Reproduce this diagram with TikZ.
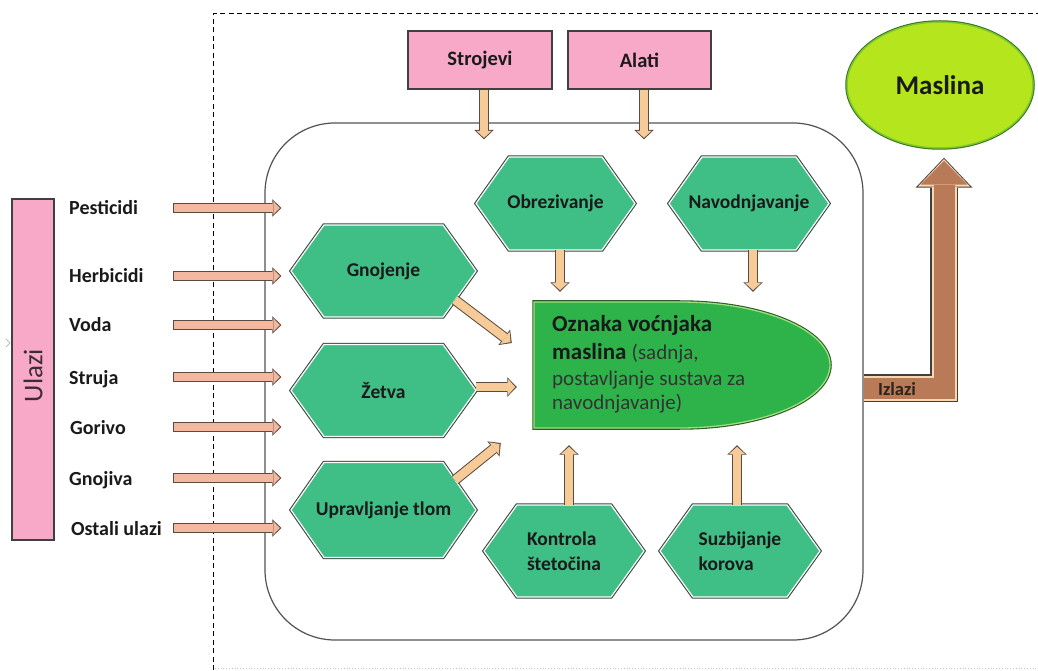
\documentclass[tikz,border=0pt]{standalone}
\usepackage{fontspec}
\setmainfont{Carlito}
\usetikzlibrary{arrows.meta,calc,shapes.geometric}
\definecolor{pinkc}{HTML}{F8A9C7}
\definecolor{salmonc}{HTML}{F4B8A0}
\definecolor{tanc}{HTML}{F7CB98}
\definecolor{hexg}{HTML}{3FBE86}
\definecolor{hexedge}{HTML}{3A4A40}
\definecolor{ovalg}{HTML}{2DB34A}
\definecolor{ovallight}{HTML}{9DE07A}
\definecolor{ovaldark}{HTML}{2E5A2A}
\definecolor{limec}{HTML}{B5E61D}
\definecolor{limeedge}{HTML}{7CCB2A}
\definecolor{limedark}{HTML}{3B6E1E}
\definecolor{brownc}{HTML}{B97A57}
\definecolor{creamc}{HTML}{FAD6AE}
\definecolor{edgec}{HTML}{404040}
\definecolor{arredge}{HTML}{5A4A40}
\definecolor{textc}{HTML}{1A1A1A}
\definecolor{ulazitext}{HTML}{3C2C38}
\newcommand{\hexa}[6]{%
  \path[hexfill] (#2-#4/2,#3) -- (#2-#4/2+33,#3+#5/2) -- (#2+#4/2-33,#3+#5/2) -- (#2+#4/2,#3) -- (#2+#4/2-33,#3-#5/2) -- (#2-#4/2+33,#3-#5/2) -- cycle;
  \node[hextext, minimum width=#4, minimum height=#5] (#1) at (#2,#3) {#6};
}
\tikzset{
  inlabel/.style={anchor=west, inner sep=0pt, font=\fontsize{20}{24}\selectfont\bfseries, text=textc, text height=14pt, text depth=0pt},
  pinkrect/.style={draw=edgec, line width=1.3pt, fill=pinkc, inner sep=0pt},
  hexfill/.style={fill=hexg, draw=white, line width=1.2pt, line join=miter, preaction={draw=hexedge, line width=3.4pt}},
  hextext/.style={inner sep=0pt, font=\fontsize{19.5}{25}\selectfont\bfseries, text=textc, align=left},
  inarrow/.style={line width=8pt, draw=salmonc, shorten <=1pt, shorten >=1.6pt,
    -{Triangle[length=6.5pt,width=13.5pt,line width=0pt]},
    preaction={draw=arredge, line width=10pt, shorten <=0pt, shorten >=0pt, -{Triangle[length=9pt,width=17.5pt,line width=0pt]}}},
  tanarrow/.style={line width=8.5pt, draw=tanc, shorten <=0pt, shorten >=1.6pt,
    -{Triangle[length=7pt,width=15.5pt,line width=0pt]},
    preaction={draw=arredge, line width=10.5pt, shorten <=0pt, shorten >=0pt, -{Triangle[length=9.5pt,width=19.5pt,line width=0pt]}}},
  bigarrow/.style={line width=21pt, draw=brownc, line join=miter, shorten >=3pt,
    -{Triangle[length=24pt,width=47pt,line width=0pt]},
    preaction={draw=edgec, line width=28pt, shorten >=0pt, -{Triangle[length=30pt,width=57pt,line width=0pt]}},
    preaction={draw=creamc, line width=25pt, shorten >=1.3pt, -{Triangle[length=27.5pt,width=52pt,line width=0pt]}}}
}
\begin{document}
\begin{tikzpicture}[x=1pt,y=1pt]
\useasboundingbox (0,0) rectangle (1038,670);
\fill[white] (0,0) rectangle (1038,670);
% frame
\draw[line width=1pt, dash pattern=on 5pt off 3.5pt] (213,0) -- (213,656) -- (1038,656);
\draw[gray!45, line width=0.8pt, dotted] (215,2) -- (1038,2);
\draw[gray!50, line width=0.8pt] (6,331) -- (10,327) -- (6,323);
% inputs box
\node[pinkrect, rotate=90, minimum width=341, minimum height=42, font=\fontsize{27}{30}\selectfont, text=ulazitext] (ulazi) at (33,300.5) {\hspace*{-12pt}Ulazi};
% process box
\node[draw=edgec!90, line width=1.2pt, rounded corners=70pt, minimum width=598, minimum height=517, inner sep=0pt] (proc) at (564,288.5) {};
% input labels
\node[inlabel] (l1) at (69,462) {Pesticidi};
\node[inlabel] (l2) at (69,394) {Herbicidi};
\node[inlabel] (l3) at (69,345) {Voda};
\node[inlabel] (l4) at (69,293) {Struja};
\node[inlabel] (l5) at (70,243) {Gorivo};
\node[inlabel] (l6) at (69,192) {Gnojiva};
\node[inlabel] (l7) at (71,142) {Ostali ulazi};
\coordinate (instart) at (173,0);
\coordinate (inend) at ([xshift=17pt]proc.west);
\foreach \i in {1,...,7}{
  \draw[inarrow] (instart |- l\i) -- (inend |- l\i);
}
% top boxes
\node[pinkrect, minimum width=144, minimum height=58, font=\fontsize{20.5}{24}\selectfont\bfseries, text=textc] (stro) at (480,610) {Strojevi};
\node[pinkrect, minimum width=143, minimum height=58, font=\fontsize{20.5}{24}\selectfont\bfseries, text=textc] (alati) at (639.5,610) {Alati};
% central shape
\path[fill=ovalg, draw=ovallight, line width=1.3pt, preaction={draw=ovaldark, line width=3.5pt}]
  (534,368) -- (680,368) arc[start angle=90, end angle=-90, x radius=150, y radius=63] -- (534,242) -- cycle;
\node[inner sep=0pt, minimum width=296, minimum height=126] (oval) at (682,305) {};
\node[anchor=west, align=left, inner sep=0pt, text=textc, font=\fontsize{21}{26}\selectfont] (ovaltext) at (552,306)
  {\fontsize{23}{27}\selectfont\bfseries Oznaka voćnjaka\\[2pt]
   \fontsize{23}{27}\selectfont\bfseries maslina \fontsize{21}{26}\selectfont\mdseries\color{black!80} (sadnja,\\
   \fontsize{21}{26}\selectfont\color{black!80}postavljanje sustava za\\[-2pt]
   \fontsize{21}{26}\selectfont\color{black!80}navodnjavanje)};
% hexagons
\hexa{obrez}{555.5}{466.5}{159}{93}{Obrezivanje}
\hexa{navod}{749}{466.5}{160}{93}{Navodnjavanje}
\hexa{gnoj}{383.5}{399}{185}{92}{Gnojenje}
\hexa{zetva}{383.5}{279.5}{185}{92}{Žetva}
\hexa{uprav}{383.5}{160}{185}{95}{Upravljanje tlom}
\hexa{kontr}{564}{119}{160}{92}{Kontrola\\štetočina}
\hexa{suzb}{740}{119}{160}{92}{Suzbijanje\\korova}
% tan arrows
\draw[tanarrow] ($(stro.south)+(4,0)$) -- ($(stro.south |- proc.north)+(4,-17)$);
\draw[tanarrow] ($(alati.south)+(4.5,0)$) -- ($(alati.south |- proc.north)+(4.5,-17)$);
\draw[tanarrow] ($(obrez.south)+(4.5,0)$) -- ($(obrez.south |- oval.north)+(4.5,10)$);
\draw[tanarrow] ($(navod.south)+(4,0)$) -- ($(navod.south |- oval.north)+(4,10)$);
\draw[tanarrow] ($(kontr.north)+(5,0)$) -- ($(kontr.north |- oval.south)+(5,-17)$);
\draw[tanarrow] ($(suzb.north)+(-3,0)$) -- ($(suzb.north |- oval.south)+(-3,-17)$);
\draw[tanarrow] ($(gnoj.center)+(71.5,-29)$) -- ($(oval.west)+(-22,22)$);
\draw[tanarrow] ($(zetva.east)+(0,3.5)$) -- ($(oval.west)+(-17,-22)$);
\draw[tanarrow] ($(uprav.center)+(71.5,30)$) -- ($(oval.west)+(-33,-78)$);
% output
\node[ellipse, minimum width=186, minimum height=126, inner sep=0pt, fill=limec, draw=limeedge, line width=1.5pt, preaction={draw=limedark, line width=3.5pt}, font=\fontsize{27}{30}\selectfont\bfseries, text=textc] (masl) at (940,585) {Maslina};
\draw[bigarrow] ($(proc.east)+(0,-6.5)$) -| ($(masl.south)+(4,-9)$);
\node[font=\fontsize{18.5}{22}\selectfont\bfseries, text=textc!90!brown, inner sep=0pt] (izlazi) at (897,281) {Izlazi};
\end{tikzpicture}
\end{document}
